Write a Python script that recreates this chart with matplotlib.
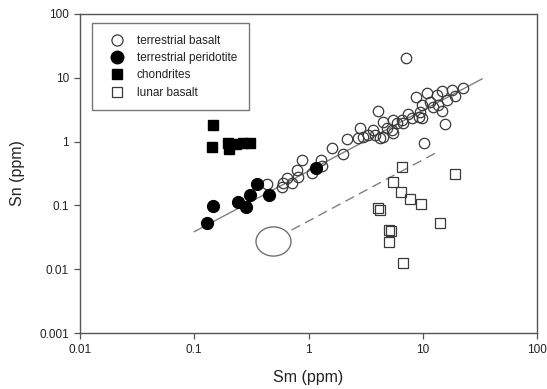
import matplotlib
matplotlib.use('Agg')
import matplotlib.pyplot as plt
from matplotlib.lines import Line2D
from matplotlib.markers import MarkerStyle
from matplotlib.transforms import Affine2D

plt.rcParams['font.family'] = ['Liberation Sans', 'DejaVu Sans']

# terrestrial basalt (open circles)
basalt_sm = [0.431, 0.603, 0.713, 0.644, 0.814, 0.788, 0.872, 1.07, 1.28, 1.30,
             1.60, 2.02, 2.16, 0.583, 7.13, 2.73, 3.02, 2.82, 3.34, 3.82,
             4.52, 5.35, 4.52, 4.08, 5.52, 5.92, 5.52, 6.76, 7.48, 8.73,
             9.79, 9.46, 9.79, 10.3, 10.8, 11.6, 13.2, 13.7, 14.7, 14.7,
             15.7, 16.2, 17.9, 19.1, 22.6, 12.4, 6.54, 8.0, 9.2, 4.83,
             3.69, 4.22]
basalt_sn = [0.216, 0.222, 0.227, 0.266, 0.282, 0.359, 0.515, 0.318, 0.515, 0.415,
             0.80, 0.64, 1.10, 0.196, 20.7, 1.13, 1.19, 1.62, 1.27, 1.27,
             1.19, 1.52, 2.05, 3.05, 2.18, 1.94, 1.35, 1.94, 2.71, 5.06,
             2.32, 2.94, 3.75, 0.94, 5.84, 4.23, 5.38, 3.75, 3.05, 6.28,
             1.89, 4.49, 6.44, 5.19, 7.0, 3.52, 2.18, 2.32, 2.45, 1.62,
             1.52, 1.13]

# terrestrial peridotite (filled circles)
perid_sm = [0.129, 0.146, 0.241, 0.284, 0.307, 0.354, 0.451, 1.16]
perid_sn = [0.053, 0.098, 0.113, 0.094, 0.146, 0.216, 0.146, 0.385]

# chondrites (filled squares)
chond_sm = [0.146, 0.143, 0.197, 0.20, 0.232, 0.267, 0.307]
chond_sn = [1.82, 0.82, 0.95, 0.766, 0.917, 0.95, 0.95]

# lunar basalt (open squares)
lunar_sm = [6.54, 5.52, 6.41, 7.73, 9.59, 19.1, 14.2, 4.03, 4.22, 5.10, 5.28, 5.10, 6.76]
lunar_sn = [0.405, 0.235, 0.164, 0.125, 0.104, 0.31, 0.0536, 0.090, 0.0847, 0.0411, 0.0397, 0.027, 0.0124]

# trend lines and the lunar field ellipse
trend_sm = [0.1, 33.0]
trend_sn = [0.0387, 9.6]
lunar_trend_sm = [0.71, 13.7]
lunar_trend_sn = [0.041, 0.70]
ellipse_sm = [0.492]
ellipse_sn = [0.028]

edge = '#3a3a3a'
fig = plt.figure(figsize=(5.47, 3.89), dpi=100)
ax = fig.add_axes([80 / 547, 1 - 333 / 389, 457 / 547, 319 / 389])

ax.plot(trend_sm, trend_sn, color='#808080', lw=1.0, zorder=1)
ax.plot(lunar_trend_sm, lunar_trend_sn, color='#808080', lw=1.0,
        dashes=(7, 4), zorder=1)
ell = MarkerStyle('o', transform=Affine2D().scale(1.2, 1.0))
ax.plot(ellipse_sm, ellipse_sn, marker=ell, ms=21, mfc='none', mec='#707070',
        mew=1.0, ls='none', zorder=2)

ax.plot(basalt_sm, basalt_sn, 'o', ms=7.5, mfc='none', mec=edge, mew=0.9, zorder=3)
ax.plot(perid_sm, perid_sn, 'o', ms=8.5, mfc='black', mec='black', zorder=4)
ax.plot(chond_sm, chond_sn, 's', ms=7.5, mfc='black', mec='black', zorder=4)
ax.plot(lunar_sm, lunar_sn, 's', ms=7.5, mfc='none', mec=edge, mew=0.9, zorder=3)

ax.set_xscale('log')
ax.set_yscale('log')
ax.set_xlim(0.01, 100)
ax.set_ylim(0.001, 100)
ax.set_xticks([0.01, 0.1, 1, 10, 100])
ax.set_xticklabels(['0.01', '0.1', '1', '10', '100'])
ax.set_yticks([0.001, 0.01, 0.1, 1, 10, 100])
ax.set_yticklabels(['0.001', '0.01', '0.1', '1', '10', '100'])
ax.minorticks_off()
ax.tick_params(direction='out', length=4, width=0.9, color='#555555',
               labelsize=8.5, labelcolor='#222222', pad=4)
for s in ax.spines.values():
    s.set_color('#555555')
    s.set_linewidth(1.0)

ax.set_xlabel('Sm (ppm)', fontsize=11.5, color='#222222', labelpad=10)
ax.set_ylabel('Sn (ppm)', fontsize=11.5, color='#222222', labelpad=10)

handles = [
    Line2D([], [], ls='none', marker='o', ms=8, mfc='none', mec=edge, mew=0.9),
    Line2D([], [], ls='none', marker='o', ms=9, mfc='black', mec='black'),
    Line2D([], [], ls='none', marker='s', ms=7.5, mfc='black', mec='black'),
    Line2D([], [], ls='none', marker='s', ms=7.5, mfc='none', mec=edge, mew=0.9),
]
labels = ['terrestrial basalt', 'terrestrial peridotite', 'chondrites', 'lunar basalt']
leg = ax.legend(handles, labels, loc='upper left', bbox_to_anchor=(0.026, 0.972),
                borderaxespad=0, fancybox=False, fontsize=8.5, labelspacing=0.45,
                handletextpad=0.6, borderpad=1.0, handlelength=2.2)
leg.get_frame().set_edgecolor('#555555')
leg.get_frame().set_linewidth(1.0)
for t in leg.get_texts():
    t.set_color('#222222')

fig.savefig('out.png', dpi=100)
